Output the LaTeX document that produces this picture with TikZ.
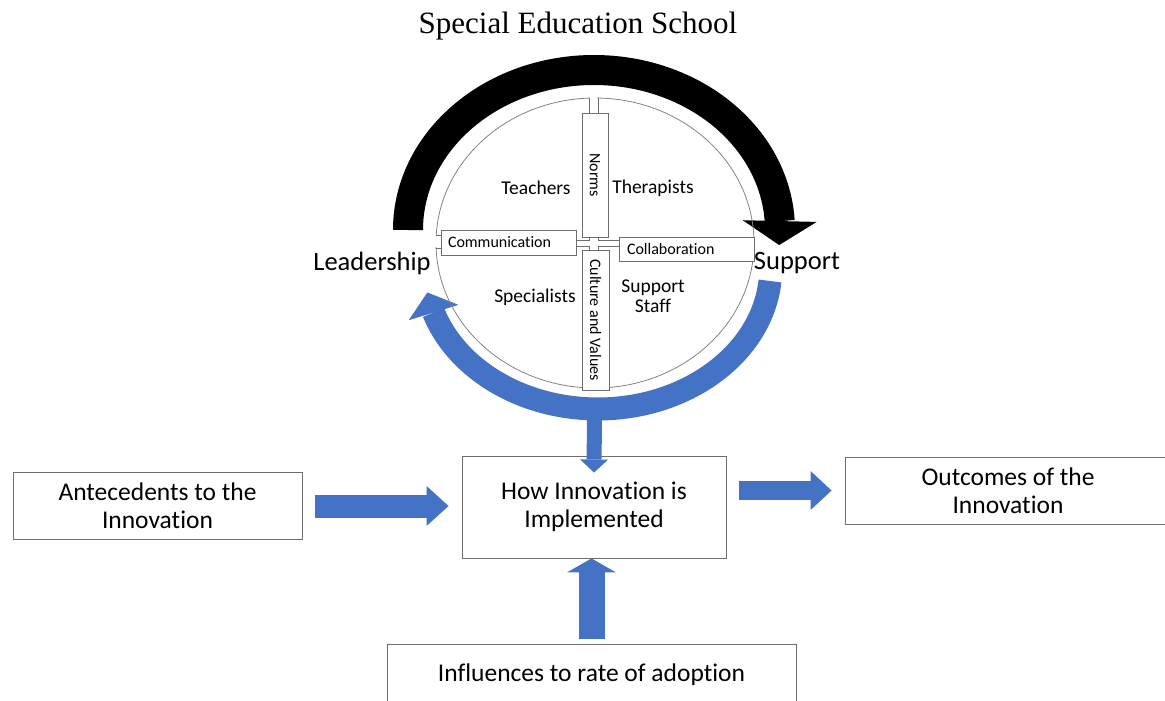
\documentclass[tikz,border=0pt]{standalone}
\usepackage{fontspec}
\setmainfont{Carlito}[Ligatures={NoCommon,NoContextual}]
\newfontfamily\titlefont{Liberation Serif}
\usetikzlibrary{arrows.meta,bending,shapes.geometric}
\definecolor{flowblue}{RGB}{68,114,196}
\definecolor{rimgray}{RGB}{110,110,110}
\definecolor{ringgray}{RGB}{130,130,130}

\tikzset{
  box/.style={draw=rimgray, line width=0.9pt, fill=white, align=center,
    font=\fontsize{25.5}{28}\selectfont, inner sep=0pt},
  tag/.style={draw=rimgray, line width=0.8pt, fill=white,
    font=\fontsize{16}{18}\selectfont, inner sep=0pt},
  group/.style={font=\fontsize{19.5}{20}\selectfont, align=center, inner sep=0pt},
  side/.style={font=\fontsize{26.5}{30}\selectfont, inner sep=0pt},
  channel/.style={draw=rimgray, line width=0.7pt},
  flow/.style n args={3}{draw=flowblue, line width=#1,
    -{Triangle[width=#2, length=#3, line width=0pt]}},
}

\begin{document}
\begin{tikzpicture}[x=1pt,y=-1pt]
\useasboundingbox (0,0) rectangle (1165,701);
\clip (0,0) rectangle (1165,701);

% heading
\node[font=\titlefont\fontsize{31}{36}\selectfont, inner sep=0pt] (title) at (578,26) {Special Education School};

% black loop: leadership over the top to support
\coordinate (lead-end) at (408,230);
\draw[black, line width=30pt, -{Triangle[length=24pt,width=74pt,line width=0pt]}]
  (lead-end) arc[start angle=180, end angle=-5.4, x radius=186pt, y radius=160pt];

% blue loop: support under the bottom back to leadership
\coordinate (sup-end) at (770,281);
\draw[flowblue, line width=23pt, -{Triangle[length=21pt,width=52pt,line width=0pt]}]
  (sup-end) arc[start angle=-5.3, end angle=-170, x radius=173pt, y radius=141pt];

% the school ring
\node[draw=ringgray, line width=0.8pt, ellipse, minimum width=318pt, minimum height=290pt, inner sep=0pt] (ring) at (595,243) {};

% openings in the ring where the channels enter
\fill[white] (589.6,94) rectangle (597.4,112);
\fill[white] (432,235.6) rectangle (441,247.4);
\draw[channel] (589,98) -- (589,113);
\draw[channel] (598,98) -- (598,113);
\draw[channel] (436,235) -- (441,235);
\draw[channel] (436,248) -- (441,248);

% four bars of the cross
\node[tag, rotate=-90, minimum width=124pt, minimum height=26pt] (norms) at (595,175) {Norms};
\node[tag, rotate=-90, minimum width=140pt, minimum height=27pt] (culture) at (595.5,320) {Culture and Values};
\node[tag, minimum height=25pt, text width=121pt, inner xsep=7pt, align=left] (comm) at (508.5,242.5) {Communication};
\node[tag, minimum height=24pt, text width=119pt, inner xsep=8pt, align=left] (collab) at (686.5,249) {Collaboration};

% plus-shaped channel joining the bars
\draw[channel] (576,240) -- (589,240) -- (589,237);
\draw[channel] (598,237) -- (598,240) -- (619,240);
\draw[channel] (576,246) -- (589,246) -- (589,250);
\draw[channel] (598,250) -- (598,246) -- (619,246);

% staff groups
\node[group] (teach) at (536,188) {Teachers};
\node[group] (ther) at (653,188) {Therapists};
\node[group] (spec) at (535,297) {Specialists};
\node[group] (staff) at (653,296) {Support\\Staff};

\node[side] (lead) at (372,263) {Leadership};
\node[side] (supp) at (797,263) {Support};

% innovation flow
\node[box, minimum width=289pt, minimum height=67pt] (ante) at (157.5,506) {Antecedents to the\\Innovation};
\node[box, minimum width=264pt, minimum height=102pt] (how) at (594,507) {How Innovation is\\Implemented};
\node[box, minimum width=326pt, minimum height=67pt] (out) at (1008,490.5) {Outcomes of the\\Innovation};
\node[box, minimum width=409pt, minimum height=62pt] (infl) at (591.5,675) {Influences to rate of adoption};

\coordinate (loop-foot) at (594.5,414);
\draw[flow={15pt}{28pt}{13pt}] (loop-foot) -- ([yshift=-17pt]how.north);
\draw[flow={23pt}{40pt}{22pt}] ([xshift=13pt]ante.east) -- ([xshift=-13pt]how.west |- ante.east);
\draw[flow={19pt}{39pt}{21pt}] ([xshift=13pt]how.east |- out.west) -- ([xshift=-13pt]out.west);
\draw[flow={26pt}{49pt}{14pt}] ([yshift=5pt]infl.north) -- (infl.north |- how.south);
\end{tikzpicture}
\end{document}
